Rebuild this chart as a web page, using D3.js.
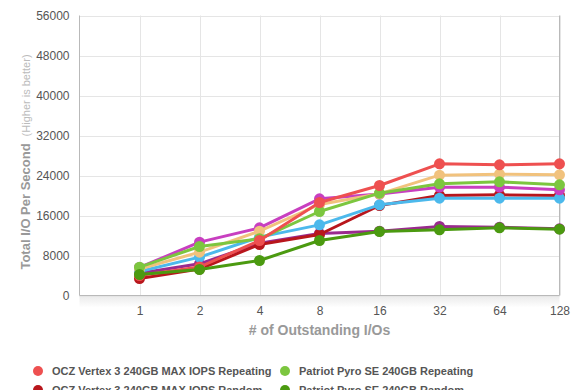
<!DOCTYPE html>
<html>
<head>
<meta charset="utf-8">
<script src="https://cdn.jsdelivr.net/npm/d3@7"></script>
<style>
  html, body { margin: 0; padding: 0; background: #fff; }
  svg { display: block; font-family: "Liberation Sans", Arial, Helvetica, sans-serif; }
</style>
</head>
<body>
<svg id="chart" width="580" height="390"></svg>
<script>
const categories = ["1", "2", "4", "8", "16", "32", "64", "128"];
const yTicks = [0, 8000, 16000, 24000, 32000, 40000, 48000, 56000];

const seriesNames = [
  "OCZ Vertex 3 240GB MAX IOPS Repeating",
  "Patriot Pyro SE 240GB Repeating",
  "OCZ Vertex 3 240GB MAX IOPS Random",
  "Patriot Pyro SE 240GB Random",
  "Corsair Force GT 240GB Repeating",
  "Mushkin Chronos Deluxe 240GB Repeating",
  "Corsair Force GT 240GB Random",
  "Mushkin Chronos Deluxe 240GB Random"
];
const seriesColors = ["#ee5050", "#7cc63f", "#b8161c", "#4b9a10", "#f1c27d", "#c83fc0", "#4cb9ec", "#9a2a8e"];

const ocz_rep   = [4000, 5700, 11000, 18600, 22000, 26330, 26130, 26330];
const pyro_rep  = [5670, 9800, 11330, 16800, 20470, 22330, 22730, 22130];
const ocz_rnd   = [3400, 5300, 10200, 12200, 18000, 20000, 20130, 20000];
const pyro_rnd  = [4200, 5200, 7000, 11000, 12800, 13130, 13530, 13270];
const s5_rep    = [5300, 8670, 12870, 18200, 20330, 24070, 24270, 24130];
const s6_rep    = [5600, 10670, 13530, 19330, 20300, 21670, 21670, 21130];
const s5_rnd    = [4800, 7670, 11670, 14130, 18130, 19470, 19470, 19470];
const s6_rnd    = [4470, 6330, 10470, 12400, 12870, 13800, 13670, 13330];

const seriesValues = [ocz_rep, pyro_rep, ocz_rnd, pyro_rnd, s5_rep, s6_rep, s5_rnd, s6_rnd];
const drawOrder = [7, 2, 6, 5, 4, 1, 0, 3];

const svg = d3.select("#chart");
const pLeft = 79.5, pRight = 559.5, pTop = 15.5, pBottom = 295.5;

const x = d3.scaleLinear().domain([-1, categories.length - 1]).range([pLeft, pRight]);
const y = d3.scaleLinear().domain([0, 56000]).range([pBottom, pTop]);

// shadow under plot
const defs = svg.append("defs");
const g1 = defs.append("linearGradient").attr("id", "shade").attr("x1", 0).attr("y1", 0).attr("x2", 0).attr("y2", 1);
g1.append("stop").attr("offset", "0%").attr("stop-color", "#e9e9e9");
g1.append("stop").attr("offset", "100%").attr("stop-color", "#ffffff");
svg.append("rect").attr("x", pLeft).attr("y", pBottom).attr("width", pRight - pLeft).attr("height", 12).attr("fill", "url(#shade)");

// gridlines
svg.append("g").selectAll("line").data(yTicks).join("line")
  .attr("x1", pLeft).attr("x2", pRight)
  .attr("y1", d => Math.round(y(d)) + 0.5).attr("y2", d => Math.round(y(d)) + 0.5)
  .attr("stroke", "#e5e5e5").attr("stroke-width", 1);
svg.append("g").selectAll("line").data(categories).join("line")
  .attr("x1", (d, i) => Math.round(x(i)) + 0.5).attr("x2", (d, i) => Math.round(x(i)) + 0.5)
  .attr("y1", pTop).attr("y2", pBottom)
  .attr("stroke", "#e5e5e5").attr("stroke-width", 1);

// frame: left, bottom, right
svg.append("path")
  .attr("d", `M${pLeft},${pTop}V${pBottom}H${pRight}V${pTop}`)
  .attr("fill", "none").attr("stroke", "#b9b9b9").attr("stroke-width", 1);

// y axis labels
const yAxis = d3.axisLeft(y).tickValues(yTicks).tickSize(0).tickPadding(10).tickFormat(d3.format("d"));
const ya = svg.append("g").attr("transform", `translate(${pLeft},0)`).call(yAxis);
ya.select(".domain").remove();
ya.selectAll("text").attr("fill", "#555").style("font-size", "12px");

// x axis labels
const xAxis = d3.axisBottom(x).tickValues(d3.range(categories.length)).tickSize(0).tickPadding(11)
  .tickFormat(i => categories[i]);
const xa = svg.append("g").attr("transform", `translate(0,${pBottom})`).call(xAxis);
xa.select(".domain").remove();
xa.selectAll("text").attr("fill", "#555").style("font-size", "12px");

// axis titles
svg.append("text").attr("x", (pLeft + pRight) / 2).attr("y", 335)
  .attr("text-anchor", "middle").attr("fill", "#999").style("font-size", "14px").style("font-weight", "bold")
  .text("# of Outstanding I/Os");

const yt = svg.append("text").attr("transform", `translate(30,162) rotate(-90)`).attr("text-anchor", "middle");
yt.append("tspan").attr("fill", "#999").style("font-size", "13px").style("font-weight", "bold").text("Total I/O Per Second");
yt.append("tspan").attr("fill", "#bbb").style("font-size", "11px").attr("dx", 7).text("(Higher is better)");

// lines
const line = d3.line().x((d, i) => x(i)).y(d => y(d));
const plot = svg.append("g");
drawOrder.forEach(si => {
  const gS = plot.append("g");
  gS.append("path").datum(seriesValues[si]).attr("d", line)
    .attr("fill", "none").attr("stroke", seriesColors[si]).attr("stroke-width", 3).attr("stroke-linejoin", "round");
  gS.selectAll("circle").data(seriesValues[si]).join("circle")
    .attr("cx", (d, i) => x(i)).attr("cy", d => y(d)).attr("r", 5.5).attr("fill", seriesColors[si]);
});

// legend
const legend = svg.append("g");
seriesNames.forEach((name, i) => {
  const col = i % 2, row = Math.floor(i / 2);
  const lx = col === 0 ? 38 : 285;
  const ly = 371 + row * 19;
  legend.append("circle").attr("cx", lx).attr("cy", ly).attr("r", 5).attr("fill", seriesColors[i]);
  legend.append("text").attr("x", lx + 14).attr("y", ly + 4)
    .attr("fill", "#555").style("font-size", "11px").style("font-weight", "bold").text(name);
});
</script>
</body>
</html>
